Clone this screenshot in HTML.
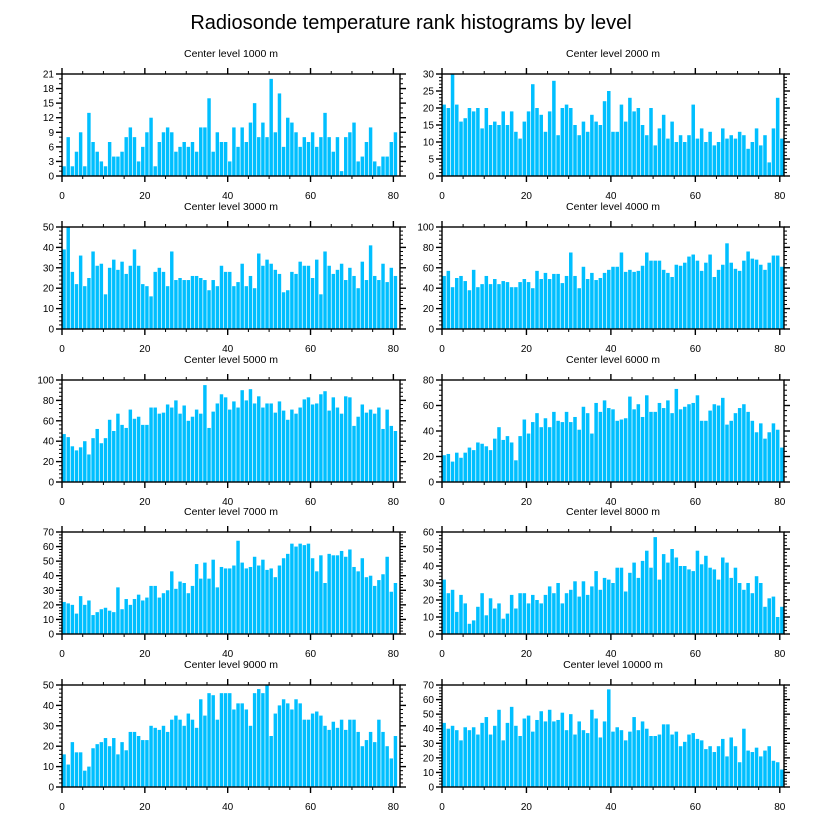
<!DOCTYPE html>
<html><head><meta charset="utf-8"><style>
html,body{margin:0;padding:0;background:#fff;}
svg{display:block;font-family:"Liberation Sans",sans-serif;}
</style></head><body>
<svg id="chart" width="822" height="824" viewBox="0 0 822 824" xmlns="http://www.w3.org/2000/svg">
<text x="411" y="29" text-anchor="middle" font-size="20">Radiosonde temperature rank histograms by level</text>
</svg>
<script>
const levels = [1000,2000,3000,4000,5000,6000,7000,8000,9000,10000];
const yMaxes = [21,30,50,100,100,80,70,60,50,70];
const yStepsArr = [3,5,10,20,20,20,10,10,10,10];
const xTickLabels = [0,20,40,60,80];
const h1000 = [2,8,2,5,9,2,13,7,5,3,2,7,4,4,5,8,10,8,3,6,9,12,2,7,9,10,9,5,6,7,6,7,5,10,10,16,5,9,7,7,3,10,6,10,7,11,15,8,11,8,20,9,17,6,12,11,9,6,8,7,9,6,8,13,8,5,8,1,8,9,11,3,4,7,10,3,2,4,4,7,9];
const h2000 = [21,20,30,21,16,17,20,19,20,14,20,15,16,15,19,15,19,13,11,16,19,27,20,18,13,19,28,12,20,21,20,15,12,16,13,18,16,15,22,25,13,13,21,16,23,19,20,15,12,20,9,14,18,11,16,10,12,10,12,21,11,14,10,13,9,10,14,11,12,11,13,12,8,10,14,9,12,4,14,23,11];
const h3000 = [39,50,28,22,36,21,25,38,31,32,17,30,34,29,33,27,31,39,31,22,21,16,28,30,28,21,38,24,25,24,24,26,26,25,24,19,24,21,31,28,28,21,23,32,21,26,20,37,31,34,32,29,27,18,19,28,27,33,31,31,25,34,17,38,31,27,29,32,24,30,26,20,33,24,41,26,24,32,23,30,26];
const h4000 = [52,57,41,50,52,47,38,58,41,44,52,44,49,44,47,46,41,41,46,49,46,40,57,49,55,49,54,54,45,52,75,52,40,61,49,55,48,50,55,58,61,61,75,56,58,56,57,62,75,67,67,67,58,55,51,63,62,65,71,73,67,57,65,73,51,58,63,84,65,59,57,67,76,69,68,63,58,65,72,72,61];
const h5000 = [47,44,35,31,34,40,27,43,52,38,43,61,50,67,56,53,71,62,64,56,56,73,73,67,68,76,73,80,67,75,60,64,71,67,95,53,69,77,86,83,71,79,73,90,80,91,77,84,73,77,77,68,79,70,61,71,67,73,81,83,76,77,86,89,70,83,73,67,84,83,55,64,76,68,71,67,73,52,71,55,50];
const h6000 = [21,22,16,23,19,23,27,25,31,30,28,25,34,43,33,36,31,17,36,49,38,47,54,43,50,43,55,48,47,55,47,51,41,59,54,38,62,55,64,58,57,48,49,50,67,57,61,51,68,55,55,62,58,64,54,73,57,59,61,62,68,48,48,56,61,60,66,45,48,54,58,61,55,48,39,46,34,39,46,41,27];
const h7000 = [22,21,20,14,26,20,23,13,15,17,18,16,15,32,17,24,20,24,27,23,25,33,33,25,28,30,43,31,36,35,28,33,48,38,49,38,51,32,46,45,45,47,64,49,45,46,53,47,51,44,45,39,47,52,55,62,60,62,61,62,52,43,54,35,55,54,54,57,53,58,46,43,52,39,40,33,37,41,53,29,35];
const h8000 = [32,24,26,13,23,18,6,8,16,24,11,21,15,18,9,12,23,15,24,24,18,23,20,18,23,28,24,30,18,24,26,31,22,31,23,28,37,26,33,32,30,39,39,25,36,42,33,43,49,39,57,32,47,42,50,45,40,40,38,37,49,41,46,39,38,32,45,42,33,39,30,26,30,24,34,30,16,21,22,10,16];
const h9000 = [16,11,22,17,17,8,10,19,21,22,24,20,24,16,22,18,27,27,25,23,23,30,29,28,30,27,33,35,33,30,36,33,29,43,35,46,45,33,46,46,46,38,41,41,38,30,46,48,46,50,25,36,40,43,41,38,43,41,33,33,36,37,35,30,28,32,29,33,28,33,33,27,20,23,27,22,33,27,20,14,25];
const h10000 = [44,40,42,39,32,41,39,41,36,44,48,36,42,53,32,44,55,42,35,47,49,38,46,52,45,53,45,46,51,39,50,36,45,39,37,53,47,34,45,67,38,41,39,32,38,48,39,45,40,35,35,36,43,43,36,38,28,31,36,37,33,32,26,28,24,28,33,21,34,28,17,40,25,24,27,21,25,28,18,17,12];
const seriesList = [h1000,h2000,h3000,h4000,h5000,h6000,h7000,h8000,h9000,h10000];

const NS = "http://www.w3.org/2000/svg";
const svg = document.getElementById("chart");
function mk(tag, attrs, parent){
  const e = document.createElementNS(NS, tag);
  for (const k in attrs) e.setAttribute(k, attrs[k]);
  (parent||svg).appendChild(e);
  return e;
}
const rowTops = [74,227,380,532,685];
const H = 102;
for (let p = 0; p < 10; p++) {
  const col = p % 2, row = Math.floor(p/2);
  const L = col === 0 ? 62 : 442;
  const R = col === 0 ? 400 : 784;
  const xMax = col === 0 ? 81.6 : 81;
  const T = rowTops[row], B = T + H;
  const yMax = yMaxes[p], yStep = yStepsArr[p];
  const xs = v => L + (v / xMax) * (R - L);
  const ys = v => B - (v / yMax) * H;
  const g = mk("g", {});
  
  
  const title = mk("text", {x: (L+R)/2, y: T - 17, "text-anchor": "middle", "font-size": "10.5"}, g);
  
  
  title.textContent = "Center level " + levels[p] + " m";
  const data = seriesList[p];
  for (let i = 0; i < data.length; i++) {
    const x0 = xs(i), x1 = xs(i+1);
    const r = mk("rect", {x: x0 + 0.35, y: ys(data[i]), width: Math.max(0.5, x1 - x0 - 0.7), height: B - ys(data[i]), fill: "#00bfff"}, g);
    
    
  }
  const box = mk("rect", {x: L, y: T, width: R - L, height: H, fill: "none", stroke: "#000", "stroke-width": "1.4"}, g);
  
  
  for (let v = 0; v <= xMax; v += 5) {
    const major = v % 20 === 0;
    const len = major ? 6 : 3;
    const x = xs(v);
    mk("line", {x1: x, x2: x, y1: B, y2: B + len, stroke: "#000", "stroke-width": major ? 1.4 : 1}, g);
    mk("line", {x1: x, x2: x, y1: T, y2: T - len, stroke: "#000", "stroke-width": major ? 1.4 : 1}, g);
  }
  for (const v of xTickLabels) {
    const t = mk("text", {x: xs(v), y: B + 23, "text-anchor": "middle", "font-size": "10"}, g);
    
    
    t.textContent = v;
  }
  const nMinor = yStep === 3 ? 3 : 5;
  const mstep = yStep / nMinor;
  for (let k = 0; k * mstep <= yMax + 1e-9; k++) {
    const v = k * mstep;
    const major = k % nMinor === 0;
    const len = major ? 6 : 3;
    const y = ys(v);
    mk("line", {x1: L, x2: L - len, y1: y, y2: y, stroke: "#000", "stroke-width": major ? 1.4 : 1}, g);
    mk("line", {x1: R, x2: R + len, y1: y, y2: y, stroke: "#000", "stroke-width": major ? 1.4 : 1}, g);
  }
  for (let v = 0; v <= yMax; v += yStep) {
    const t = mk("text", {x: L - 8, y: ys(v) + 3.5, "text-anchor": "end", "font-size": "10"}, g);
    
    
    t.textContent = v;
  }
}
</script>
</body></html>
